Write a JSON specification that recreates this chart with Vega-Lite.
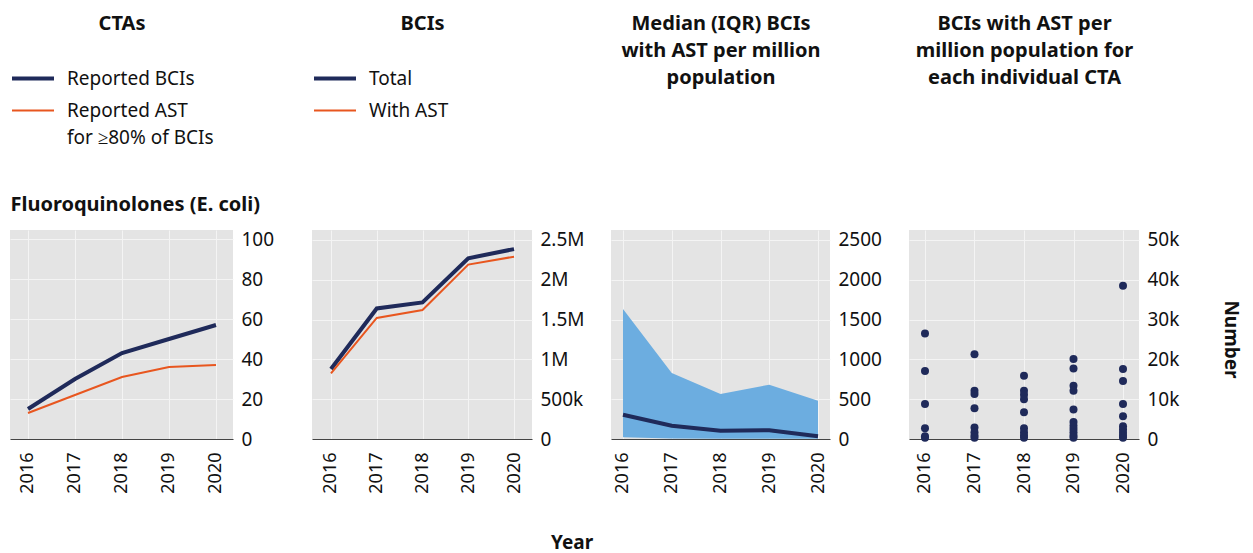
{
  "$schema": "https://vega.github.io/schema/vega-lite/v6.json",
  "autosize": {"type": "pad"},
  "padding": {"left": 10, "top": 13, "right": 10, "bottom": 0},
  "title": {"text": "Year", "orient": "bottom", "anchor": "start", "frame": "bounds", "dx": 541, "offset": 41, "fontSize": 19, "fontWeight": "bold", "font": "Noto Sans", "color": "#111111"},
  "datasets": {
    "cta": [
      {"year": 2016, "series": "Reported BCIs", "value": 15},
      {"year": 2017, "series": "Reported BCIs", "value": 30},
      {"year": 2018, "series": "Reported BCIs", "value": 43},
      {"year": 2019, "series": "Reported BCIs", "value": 50},
      {"year": 2020, "series": "Reported BCIs", "value": 57},
      {"year": 2016, "series": "Reported AST for ≥80% of BCIs", "value": 13},
      {"year": 2017, "series": "Reported AST for ≥80% of BCIs", "value": 22},
      {"year": 2018, "series": "Reported AST for ≥80% of BCIs", "value": 31},
      {"year": 2019, "series": "Reported AST for ≥80% of BCIs", "value": 36},
      {"year": 2020, "series": "Reported AST for ≥80% of BCIs", "value": 37}
    ],
    "bci": [
      {"year": 2016, "series": "Total", "value": 880000},
      {"year": 2017, "series": "Total", "value": 1640000},
      {"year": 2018, "series": "Total", "value": 1715000},
      {"year": 2019, "series": "Total", "value": 2270000},
      {"year": 2020, "series": "Total", "value": 2385000},
      {"year": 2016, "series": "With AST", "value": 825000},
      {"year": 2017, "series": "With AST", "value": 1520000},
      {"year": 2018, "series": "With AST", "value": 1620000},
      {"year": 2019, "series": "With AST", "value": 2190000},
      {"year": 2020, "series": "With AST", "value": 2290000}
    ],
    "iqr": [
      {"year": 2016, "q1": 21, "median": 305, "q3": 1633},
      {"year": 2017, "q1": 6, "median": 167, "q3": 829},
      {"year": 2018, "q1": 4, "median": 105, "q3": 565},
      {"year": 2019, "q1": 4, "median": 109, "q3": 682},
      {"year": 2020, "q1": 3, "median": 34, "q3": 481}
    ],
    "pts": [
      {"year": 2016, "value": 26500}, {"year": 2016, "value": 17100}, {"year": 2016, "value": 8800}, {"year": 2016, "value": 2700}, {"year": 2016, "value": 700}, {"year": 2016, "value": 300},
      {"year": 2017, "value": 21300}, {"year": 2017, "value": 12100}, {"year": 2017, "value": 11300}, {"year": 2017, "value": 7700}, {"year": 2017, "value": 2900}, {"year": 2017, "value": 1700}, {"year": 2017, "value": 900}, {"year": 2017, "value": 300},
      {"year": 2018, "value": 15900}, {"year": 2018, "value": 12100}, {"year": 2018, "value": 11100}, {"year": 2018, "value": 10000}, {"year": 2018, "value": 6700}, {"year": 2018, "value": 2700}, {"year": 2018, "value": 1700}, {"year": 2018, "value": 900}, {"year": 2018, "value": 300},
      {"year": 2019, "value": 20100}, {"year": 2019, "value": 17700}, {"year": 2019, "value": 13400}, {"year": 2019, "value": 12100}, {"year": 2019, "value": 7400}, {"year": 2019, "value": 4300}, {"year": 2019, "value": 3300}, {"year": 2019, "value": 2500}, {"year": 2019, "value": 1700}, {"year": 2019, "value": 900}, {"year": 2019, "value": 300},
      {"year": 2020, "value": 38500}, {"year": 2020, "value": 17600}, {"year": 2020, "value": 14600}, {"year": 2020, "value": 8800}, {"year": 2020, "value": 5700}, {"year": 2020, "value": 3200}, {"year": 2020, "value": 2400}, {"year": 2020, "value": 1600}, {"year": 2020, "value": 800}, {"year": 2020, "value": 300}
    ]
  },
  "spacing": 79,
  "bounds": "flush",
  "resolve": {
    "scale": {"color": "independent", "strokeWidth": "independent"},
    "legend": {"color": "independent", "strokeWidth": "independent"}
  },
  "hconcat": [
    {
      "width": 223,
      "height": 209,
      "data": {"name": "cta"},
      "mark": {"type": "line", "strokeCap": "butt"},
      "encoding": {
        "x": {"field": "year", "type": "quantitative", "scale": {"domain": [2015.617, 2020.362], "nice": false, "zero": false},
          "axis": {"values": [2016, 2017, 2018, 2019, 2020], "format": "d", "title": "CTAs", "titleY": -426, "titleBaseline": "top", "titleLineHeight": 27.2}},
        "y": {"field": "value", "type": "quantitative", "scale": {"domain": [0, 104.5], "nice": false},
          "axis": {"orient": "right", "values": [0, 20, 40, 60, 80, 100], "title": "Fluoroquinolones (E. coli)", "titleAngle": 0, "titleX": -223, "titleY": -26, "titleAlign": "left", "titleBaseline": "middle"}},
        "color": {"field": "series", "type": "nominal", "scale": {"domain": ["Reported BCIs", "Reported AST for ≥80% of BCIs"], "range": ["#1f2a5a", "#e8561f"]},
          "legend": {"orient": "none", "legendX": 0, "legendY": -161, "title": null, "direction": "vertical",
            "labelExpr": "datum.label == 'Reported AST for ≥80% of BCIs' ? ['Reported AST', 'for ≥80% of BCIs'] : datum.label",
            "encode": {"labels": {"update": {"lineHeight": {"value": 27}}}}}},
        "strokeWidth": {"field": "series", "type": "nominal", "scale": {"domain": ["Reported BCIs", "Reported AST for ≥80% of BCIs"], "range": [4, 2]},
          "legend": {"orient": "none", "legendX": 0, "legendY": -161, "title": null, "direction": "vertical",
            "labelExpr": "datum.label == 'Reported AST for ≥80% of BCIs' ? ['Reported AST', 'for ≥80% of BCIs'] : datum.label",
            "encode": {"labels": {"update": {"lineHeight": {"value": 27}}}}}}
      }
    },
    {
      "width": 220,
      "height": 209,
      "data": {"name": "bci"},
      "mark": {"type": "line", "strokeCap": "butt"},
      "encoding": {
        "x": {"field": "year", "type": "quantitative", "scale": {"domain": [2015.585, 2020.393], "nice": false, "zero": false},
          "axis": {"values": [2016, 2017, 2018, 2019, 2020], "format": "d", "title": "BCIs", "titleY": -426, "titleBaseline": "top", "titleLineHeight": 27.2}},
        "y": {"field": "value", "type": "quantitative", "scale": {"domain": [0, 2625000], "nice": false},
          "axis": {"orient": "right", "values": [0, 500000, 1000000, 1500000, 2000000, 2500000], "title": null,
            "labelExpr": "datum.value == 0 ? '0' : datum.value >= 1000000 ? format(datum.value / 1000000, '~g') + 'M' : format(datum.value / 1000, '~g') + 'k'"}},
        "color": {"field": "series", "type": "nominal", "scale": {"domain": ["Total", "With AST"], "range": ["#1f2a5a", "#e8561f"]},
          "legend": {"orient": "none", "legendX": 0, "legendY": -161, "title": null, "direction": "vertical"}},
        "strokeWidth": {"field": "series", "type": "nominal", "scale": {"domain": ["Total", "With AST"], "range": [4, 2]},
          "legend": {"orient": "none", "legendX": 0, "legendY": -161, "title": null, "direction": "vertical"}}
      }
    },
    {
      "width": 219,
      "height": 209,
      "data": {"name": "iqr"},
      "layer": [
        {
          "mark": {"type": "area", "color": "#6cade0", "opacity": 1},
          "encoding": {
            "x": {"field": "year", "type": "quantitative", "scale": {"domain": [2015.754, 2020.246], "nice": false, "zero": false},
              "axis": {"values": [2016, 2017, 2018, 2019, 2020], "format": "d", "title": ["Median (IQR) BCIs", "with AST per million", "population"], "titleY": -426, "titleBaseline": "top", "titleLineHeight": 27.2}},
            "y": {"field": "q3", "type": "quantitative", "scale": {"domain": [0, 2625], "nice": false},
              "axis": {"orient": "right", "values": [0, 500, 1000, 1500, 2000, 2500], "format": "d", "title": null}},
            "y2": {"field": "q1"}
          }
        },
        {
          "mark": {"type": "line", "color": "#1f2a5a", "strokeWidth": 4, "strokeCap": "butt"},
          "encoding": {
            "x": {"field": "year", "type": "quantitative", "scale": {"domain": [2015.754, 2020.246], "nice": false, "zero": false}},
            "y": {"field": "median", "type": "quantitative", "scale": {"domain": [0, 2625], "nice": false}, "title": null}
          }
        }
      ]
    },
    {
      "width": 230,
      "height": 209,
      "data": {"name": "pts"},
      "mark": {"type": "circle", "color": "#1f2a5a", "opacity": 1, "size": 64},
      "encoding": {
        "x": {"field": "year", "type": "quantitative", "scale": {"domain": [2015.677, 2020.323], "nice": false, "zero": false},
          "axis": {"values": [2016, 2017, 2018, 2019, 2020], "format": "d", "title": ["BCIs with AST per", "million population for", "each individual CTA"], "titleY": -426, "titleBaseline": "top", "titleLineHeight": 27.2}},
        "y": {"field": "value", "type": "quantitative", "scale": {"domain": [0, 52500], "nice": false},
          "axis": {"orient": "right", "values": [0, 10000, 20000, 30000, 40000, 50000], "labelExpr": "datum.value == 0 ? '0' : format(datum.value / 1000, '~g') + 'k'",
            "title": "Number", "titleAngle": 90, "titleX": 91, "titleY": 109, "titleAlign": "center", "titleBaseline": "middle", "titleFontSize": 19}}
      }
    }
  ],
  "config": {
    "font": "Noto Sans",
    "view": {"fill": "#e4e4e4", "stroke": null},
    "axis": {
      "labelFont": "Noto Sans", "labelFontSize": 19, "labelColor": "#111111",
      "titleFont": "Noto Sans", "titleFontSize": 20, "titleFontWeight": "bold", "titleColor": "#111111",
      "grid": true, "gridColor": "#f4f4f4", "gridWidth": 1,
      "ticks": false, "tickSize": 0,
      "domainColor": "#444444", "domainWidth": 1,
      "labelFlush": false, "labelOverlap": false
    },
    "axisX": {"labelAngle": 270, "labelPadding": 13, "domain": true, "labelFontSize": 18},
    "axisY": {"domain": false, "labelPadding": 8},
    "legend": {
      "labelFont": "Noto Sans", "labelFontSize": 19, "labelColor": "#111111", "labelLimit": 300,
      "symbolType": "stroke", "symbolSize": 1764, "clipHeight": 19,
      "labelOffset": 11, "rowPadding": 12, "padding": 0
    }
  }
}
